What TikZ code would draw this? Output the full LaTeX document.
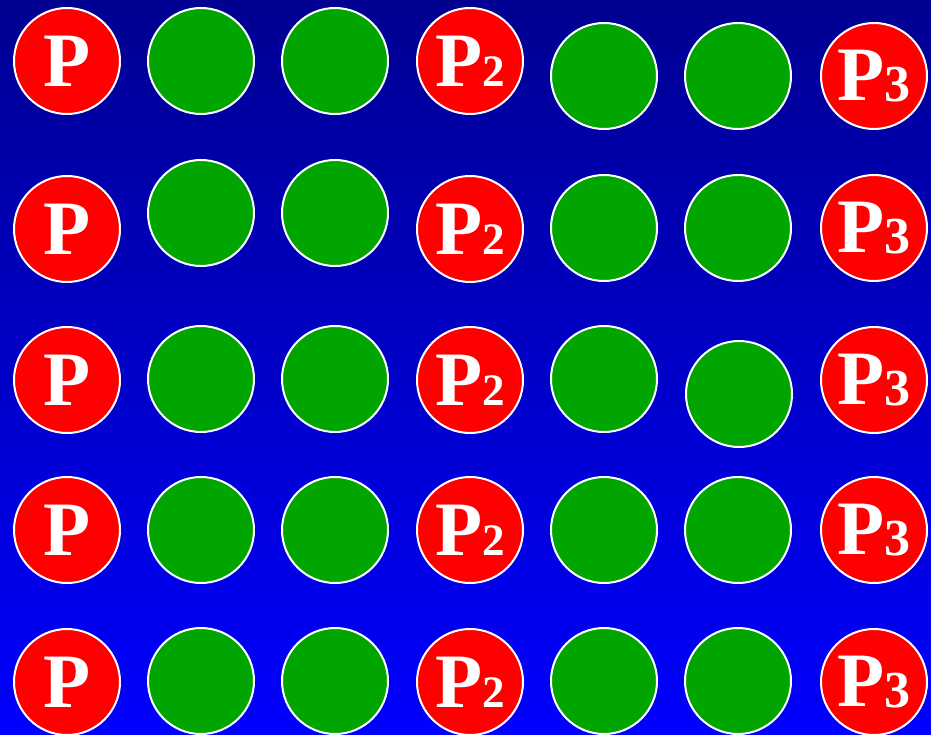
\documentclass[tikz,border=0pt]{standalone}
\usepackage{fontspec}
\setmainfont{Liberation Serif}
\definecolor{bgtop}{RGB}{0,0,145}
\definecolor{bgbot}{RGB}{0,0,255}
\definecolor{ballgreen}{RGB}{0,165,0}
\definecolor{ballred}{RGB}{255,0,0}
\begin{document}
\begin{tikzpicture}[x=1pt,y=-1pt,
  ball/.style={circle,draw=white,line width=2pt,minimum size=106pt,inner sep=0pt},
  gball/.style={ball,fill=ballgreen},
  rball/.style={ball,fill=ballred,text=white,font=\bfseries\fontsize{77}{77}\selectfont}]
\fill[top color=bgtop,bottom color=bgbot] (0,0) rectangle (931,735);
\useasboundingbox (0,0) rectangle (931,735);
\newcommand{\Ptwo}{P{\fontsize{45}{45}\selectfont 2}}
\newcommand{\Pthree}{P{\fontsize{52}{52}\selectfont\raisebox{-1.5pt}{3}}}
% row 1
\node[rball] (a1) at (67,61) {P};
\node[gball] (b1) at (201,61) {};
\node[gball] (c1) at (335,61) {};
\node[rball] (d1) at (470,61) {\Ptwo};
\node[gball] (e1) at (604,76) {};
\node[gball] (f1) at (738,76) {};
\node[rball] (g1) at (874,76) {\Pthree};
% row 2
\node[rball] (a2) at (67,229) {P};
\node[gball] (b2) at (201,213) {};
\node[gball] (c2) at (335,213) {};
\node[rball] (d2) at (470,229) {\Ptwo};
\node[gball] (e2) at (604,228) {};
\node[gball] (f2) at (738,228) {};
\node[rball] (g2) at (874,228) {\Pthree};
% row 3
\node[rball] (a3) at (67,380) {P};
\node[gball] (b3) at (201,379) {};
\node[gball] (c3) at (335,379) {};
\node[rball] (d3) at (470,380) {\Ptwo};
\node[gball] (e3) at (604,379) {};
\node[gball] (f3) at (739,394) {};
\node[rball] (g3) at (874,380) {\Pthree};
% row 4
\node[rball] (a4) at (67,530) {P};
\node[gball] (b4) at (201,530) {};
\node[gball] (c4) at (335,530) {};
\node[rball] (d4) at (470,530) {\Ptwo};
\node[gball] (e4) at (604,530) {};
\node[gball] (f4) at (738,530) {};
\node[rball] (g4) at (874,530) {\Pthree};
% row 5
\node[rball] (a5) at (67,682) {P};
\node[gball] (b5) at (201,681) {};
\node[gball] (c5) at (335,681) {};
\node[rball] (d5) at (470,682) {\Ptwo};
\node[gball] (e5) at (604,681) {};
\node[gball] (f5) at (738,681) {};
\node[rball] (g5) at (874,682) {\Pthree};
\end{tikzpicture}
\end{document}
